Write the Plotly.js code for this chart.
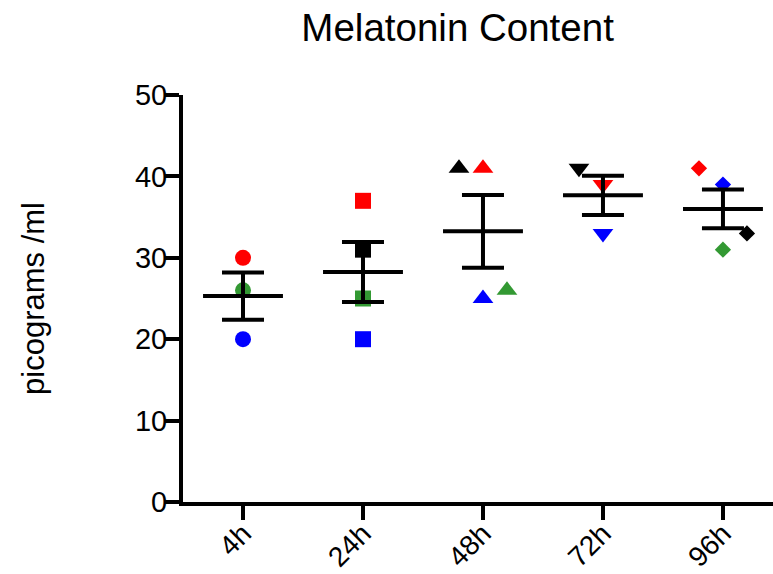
<!DOCTYPE html>
<html>
<head>
<meta charset="utf-8">
<script src="https://cdn.plot.ly/plotly-3.0.1.min.js"></script>
<style>
  html, body { margin: 0; padding: 0; background: #ffffff; }
  #chart { width: 773px; height: 574px; }
</style>
</head>
<body>
<div id="chart"></div>
<script>
// Categories and tick labels
var categories = ["4h", "24h", "48h", "72h", "96h"];
var catIndex = [0, 1, 2, 3, 4];

// Individual replicate values (picograms /ml), one array per colour series
// null = no point for that colour at that time
var redValues   = [30, 37, 41, 39, 41];
var greenValues = [26, 25, 26, null, 31];
var blueValues  = [20, 20, 25, 33, 39];
var blackValues = [null, 31, 41, 41, 33];

// Horizontal jitter of each series at each time (category units)
var redJitter   = [0, 0, 0, 0, -0.2];
var greenJitter = [0, 0, 0.2, 0, 0];
var blueJitter  = [0, 0, 0, 0, 0];
var blackJitter = [0, 0, -0.2, -0.2, 0.2];

// Summary: mean and SEM
var means = [25.3, 28.25, 33.25, 37.67, 36.0];
var sems  = [2.9, 3.68, 4.48, 2.40, 2.38];

// Marker symbols and sizes per time point
var symbols = ["circle", "square", "triangle-up", "triangle-down", "diamond"];
var symbolSizes = [16, 16, 18, 18, 12.5];

function series(values, jitter, color) {
  var xs = [], ys = [], syms = [], sizes = [];
  for (var i = 0; i < values.length; i++) {
    if (values[i] === null) continue;
    xs.push(catIndex[i] + jitter[i]);
    ys.push(values[i]);
    syms.push(symbols[i]);
    sizes.push(symbolSizes[i]);
  }
  return {
    type: "scatter", mode: "markers", x: xs, y: ys,
    marker: { color: color, size: sizes, symbol: syms, opacity: 1, line: { width: 0 } },
    hoverinfo: "x+y", showlegend: false, cliponaxis: false
  };
}

var traces = [
  series(redValues, redJitter, "#ff0000"),
  series(greenValues, greenJitter, "#339933"),
  series(blueValues, blueJitter, "#0000ff"),
  series(blackValues, blackJitter, "#000000"),
  {
    type: "scatter", mode: "markers", x: catIndex, y: means,
    marker: { color: "rgba(0,0,0,0)", size: 1 },
    error_x: { type: "constant", value: 0.333, width: 0, thickness: 4, color: "#000000" },
    error_y: { type: "data", array: sems, visible: true, width: 21, thickness: 4, color: "#000000" },
    showlegend: false, hoverinfo: "y", cliponaxis: false
  }
];

var layout = {
  width: 773, height: 574,
  margin: { l: 183, r: 0, t: 95, b: 72 },
  paper_bgcolor: "#ffffff", plot_bgcolor: "#ffffff",
  font: { family: "Liberation Sans, Arial, sans-serif", color: "#000000" },
  title: {
    text: "Melatonin Content",
    font: { size: 38.5, color: "#000000" },
    xref: "container", x: 0.592, xanchor: "center",
    yref: "container", y: 0.952, yanchor: "middle"
  },
  xaxis: {
    range: [-0.5, 4.417],
    tickmode: "array", tickvals: catIndex, ticktext: categories,
    tickangle: -45,
    ticklabelstandoff: -14,
    showgrid: false, zeroline: false,
    showline: true, linewidth: 4, linecolor: "#000000",
    ticks: "outside", ticklen: 14, tickwidth: 4, tickcolor: "#000000",
    tickfont: { size: 28, color: "#000000" }
  },
  yaxis: {
    range: [0, 50],
    tickmode: "array", tickvals: [0, 10, 20, 30, 40, 50],
    showgrid: false, zeroline: false,
    showline: true, linewidth: 4, linecolor: "#000000",
    ticks: "outside", ticklen: 14, tickwidth: 4, tickcolor: "#000000",
    ticklabelstandoff: -8,
    tickfont: { size: 29, color: "#000000" },
    title: { text: "picograms /ml", font: { size: 31, color: "#000000" }, standoff: 82 }
  }
};

Plotly.newPlot("chart", traces, layout, { displayModeBar: false, staticPlot: true });
</script>
</body>
</html>
